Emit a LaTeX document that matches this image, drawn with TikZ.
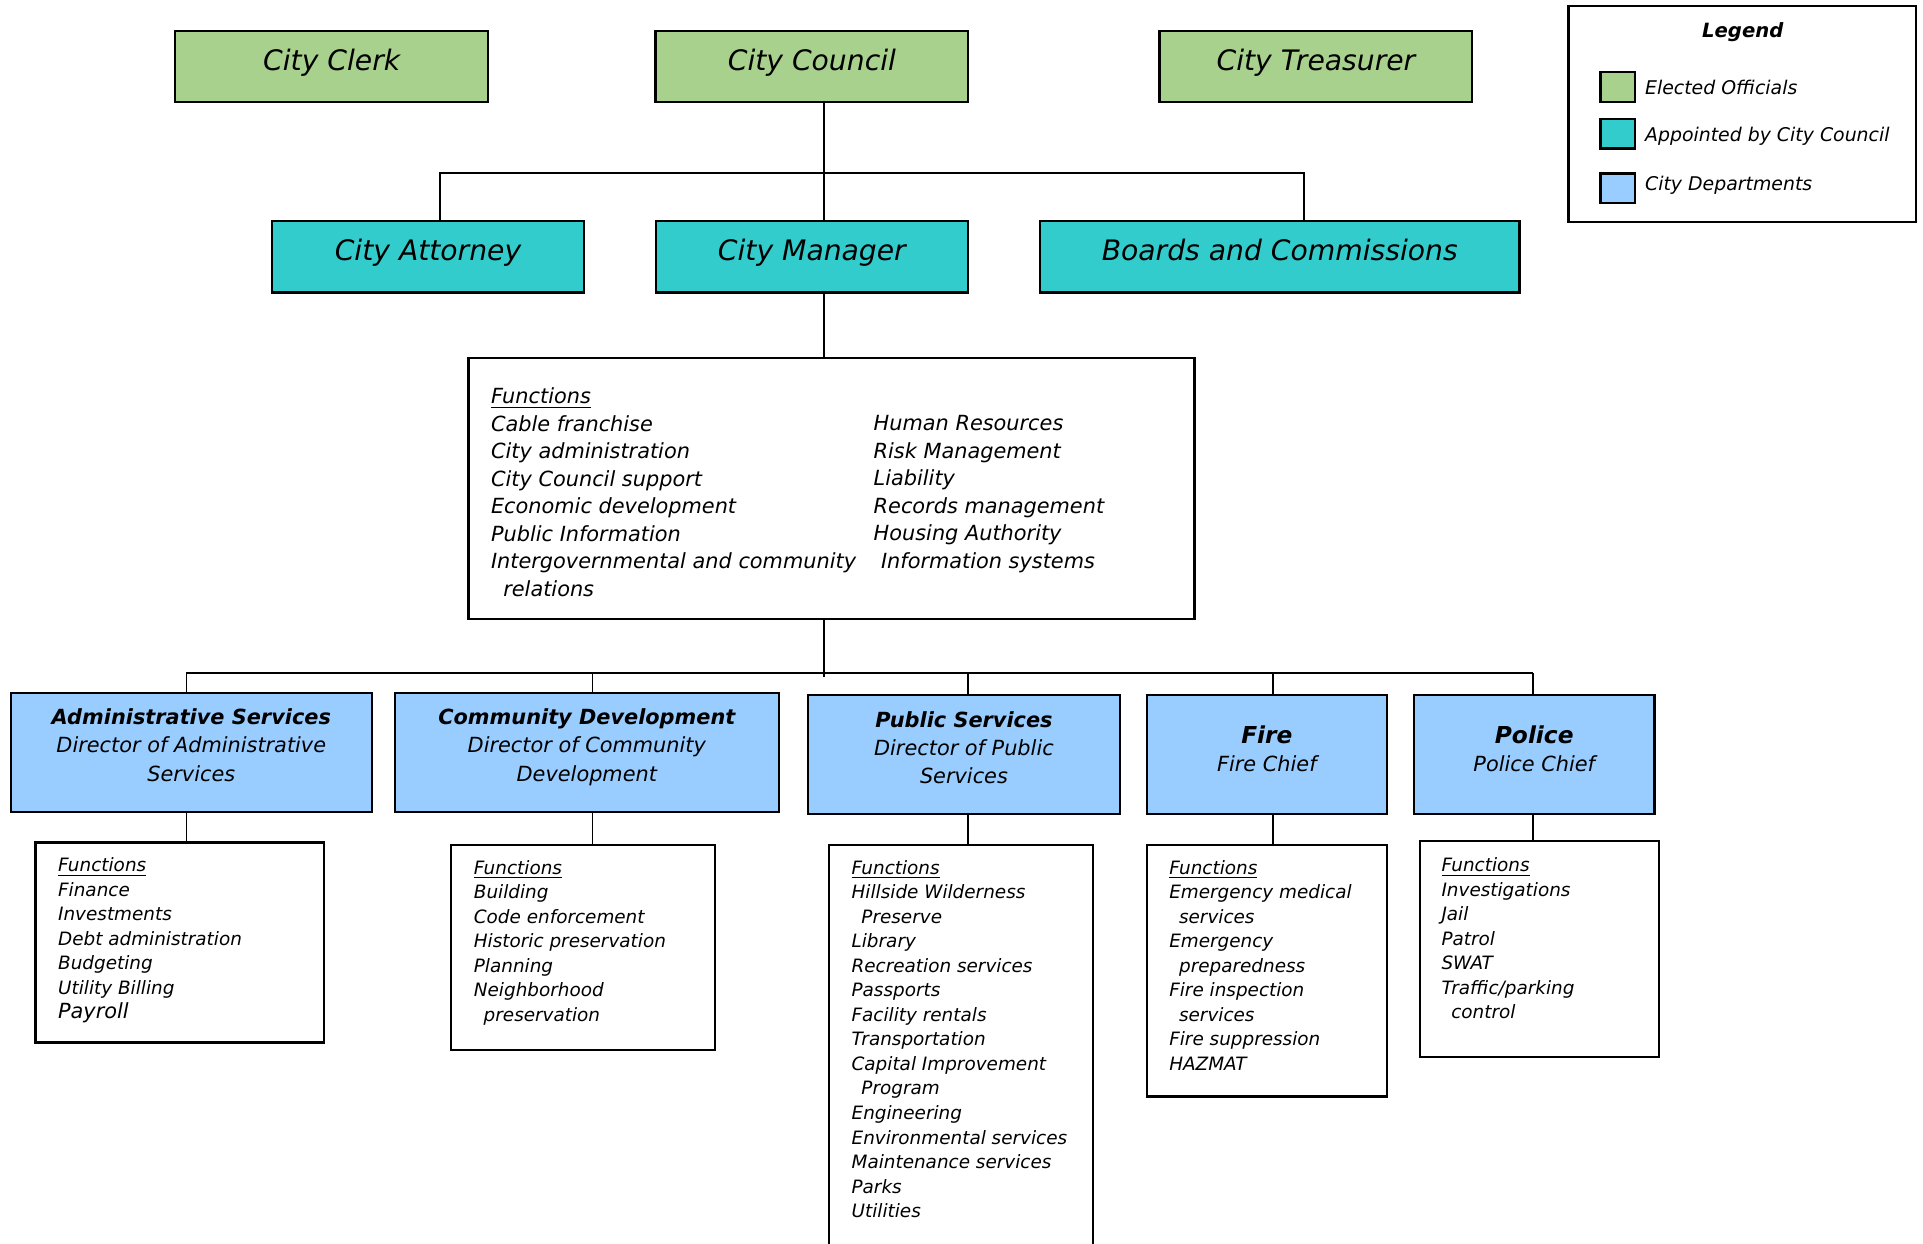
\documentclass[tikz,border=0pt]{standalone}
\usepackage{fontspec}
\setmainfont{DejaVu Sans}
\definecolor{electgreen}{RGB}{169,209,142}
\definecolor{apptteal}{RGB}{51,204,204}
\definecolor{deptblue}{RGB}{153,204,255}
\tikzset{
  topbox/.style={draw, line width=0.9pt, inner sep=0pt, minimum height=29pt,
    text height=9pt, text depth=5.8pt, font=\fontsize{11.5}{13}\selectfont\itshape},
  elected/.style={topbox, fill=electgreen, minimum width=127.5pt},
  appointed/.style={topbox, fill=apptteal},
  deptbox/.style={draw, fill=deptblue, line width=0.9pt, inner sep=0pt, align=center,
    minimum height=48.5pt, font=\fontsize{8.5}{11.5}\selectfont\itshape},
  functext/.style={anchor=north west, align=left, inner sep=0pt,
    font=\fontsize{7.5}{10}\selectfont\itshape},
  funcbox/.style={draw, line width=0.9pt, inner sep=0pt},
  swatch/.style={draw, line width=0.9pt, minimum width=14pt, minimum height=12pt, inner sep=0pt},
  link/.style={line width=0.7pt}
}
\newcommand{\fhead}{\underline{Functions}}
\newcommand{\lowstrut}[1]{\rule[-#1]{0pt}{0pt}}
\begin{document}
\begin{tikzpicture}[x=0.5pt,y=0.5pt,yscale=-1,xscale=1]
\useasboundingbox (0,0) rectangle (1568,1014);
\clip (0,0) rectangle (1568,1014);

%Shape: Rectangle [elected]
\node [elected] (clerk) at (270.5,54) {City Clerk};
\node [elected] (council) at (662,54) {City Council};
\node [elected] (treasurer) at (1073,54) {City Treasurer};
%Shape: Rectangle [appointed]
\node [appointed, minimum width=127pt] (attorney) at (349,209.5) {City Attorney};
\node [appointed, minimum width=127pt] (manager) at (662,209.5) {City Manager};
\node [appointed, minimum width=195.5pt] (boards) at (1043.5,209.5) {Boards and Commissions};

%Shape: Legend
\node [draw, line width=0.9pt, minimum width=141.5pt, minimum height=88pt] (legend) at (1420.5,93) {};
\node [font=\fontsize{8}{9}\selectfont\bfseries\itshape] (legendTitle) at (1421,26) {Legend};
\node [swatch, fill=electgreen] (swElected) at (1319,71) {};
\node [swatch, fill=apptteal] (swAppointed) at (1319,109) {};
\node [swatch, fill=deptblue] (swDept) at (1319,153.5) {};
\node [anchor=west, inner sep=0pt, font=\fontsize{7.7}{9}\selectfont\itshape] (lbElected) at (1341,71) {Elected Officials};
\node [anchor=west, inner sep=0pt, font=\fontsize{7.7}{9}\selectfont\itshape] (lbAppointed) at (1341,111) {Appointed by City Council};
\node [anchor=west, inner sep=0pt, font=\fontsize{7.7}{9}\selectfont\itshape] (lbDept) at (1341,151) {City Departments};

%Shape: Rectangle [manager functions]
\node [funcbox, minimum width=296pt, minimum height=106.5pt] (mgrfunc) at (678,398.5) {};
% Text Node
\node [functext, font=\fontsize{8.5}{11.2}\selectfont\itshape] (mgrfuncL) at (400,316) {\fhead\\
  Cable franchise\\ City administration\\ City Council support\\ Economic development\\
  Public Information\\ Intergovernmental and community\\ \hspace{5pt}relations};
\node [functext, font=\fontsize{8.5}{11.2}\selectfont\itshape] (mgrfuncR) at (712,338.4) {Human Resources\\
  Risk Management\\ Liability\\ Records management\\ Housing Authority\\ \hspace{3pt}Information systems};

%Shape: Rectangle [departments]
\node [deptbox, minimum width=147pt] (admin) at (156,613.5) {{\bfseries Administrative Services}\\
  Director of Administrative\\ Services\lowstrut{6pt}};
\node [deptbox, minimum width=156.5pt] (commdev) at (478.5,613.5) {{\bfseries Community Development}\\
  Director of Community\\ Development\lowstrut{6pt}};
\node [deptbox, minimum width=127pt] (pubserv) at (786,615.5) {{\bfseries Public Services}\\
  Director of Public\\ Services\lowstrut{6pt}};
\node [deptbox, minimum width=98pt] (fire) at (1033,615.5) {{\fontsize{9.5}{11.5}\selectfont\bfseries Fire}\\
  Fire Chief\lowstrut{5pt}};
\node [deptbox, minimum width=98pt] (police) at (1251,615.5) {{\fontsize{9.5}{11.5}\selectfont\bfseries Police}\\
  Police Chief\lowstrut{5pt}};

%Shape: Rectangle [department functions]
\node [funcbox, minimum width=117.5pt, minimum height=81.5pt] (admfunc) at (146.5,768.5) {};
\node [funcbox, minimum width=107.5pt, minimum height=83.5pt] (cdfunc) at (475.5,772.5) {};
\node [funcbox, minimum width=107.5pt, minimum height=170.5pt] (psfunc) at (783.5,859.5) {};
\node [funcbox, minimum width=98pt, minimum height=102.5pt] (firefunc) at (1033,791.5) {};
\node [funcbox, minimum width=97.5pt, minimum height=88pt] (polfunc) at (1255.5,774) {};
% Text Node
\node [functext] (admfuncT) at (47,699) {\fhead\\ Finance\\ Investments\\ Debt administration\\
  Budgeting\\ Utility Billing\\ {\fontsize{8.5}{10.5}\selectfont Payroll}};
\node [functext] (cdfuncT) at (386,701) {\fhead\\ Building\\ Code enforcement\\ Historic preservation\\
  Planning\\ Neighborhood\\ \hspace{4pt}preservation};
\node [functext] (psfuncT) at (694,701) {\fhead\\ Hillside Wilderness\\ \hspace{4pt}Preserve\\ Library\\
  Recreation services\\ Passports\\ Facility rentals\\ Transportation\\ Capital Improvement\\
  \hspace{4pt}Program\\ Engineering\\ Environmental services\\ Maintenance services\\ Parks\\ Utilities};
\node [functext] (firefuncT) at (953,701) {\fhead\\ Emergency medical\\ \hspace{4pt}services\\ Emergency\\
  \hspace{4pt}preparedness\\ Fire inspection\\ \hspace{4pt}services\\ Fire suppression\\ HAZMAT};
\node [functext] (polfuncT) at (1175,699) {\fhead\\ Investigations\\ Jail\\ Patrol\\ SWAT\\
  Traffic/parking\\ \hspace{4pt}control};

%Straight Lines [top bus]
\coordinate (mgrTap) at (672,141);
\coordinate (attyTap) at (359,141);
\coordinate (bcTap) at (1063,141);
\draw [link] (mgrTap |- council.south) -- (mgrTap |- manager.north);
\draw [link] (attyTap |- attorney.north) -- (attyTap) -- (bcTap) -- (bcTap |- boards.north);
\draw [link] (mgrTap |- manager.south) -- (mgrTap |- mgrfunc.north);

%Straight Lines [department bus]
\coordinate (midTap) at (672,552);
\coordinate (admTap) at (152,549);
\coordinate (cdTap) at (483,549);
\coordinate (psTap) at (789,549);
\coordinate (fireTap) at (1038,549);
\coordinate (polTap) at (1250,549);
\draw [link] (midTap |- mgrfunc.south) -- (midTap);
\draw [link] (admTap) -- (polTap);
\foreach \tap/\dept/\func in {admTap/admin/admfunc, cdTap/commdev/cdfunc, psTap/pubserv/psfunc,
    fireTap/fire/firefunc, polTap/police/polfunc}{
  \draw [link] (\tap) -- (\tap |- \dept.north);
  \draw [link] (\tap |- \dept.south) -- (\tap |- \func.north);
}

\end{tikzpicture}
\end{document}
